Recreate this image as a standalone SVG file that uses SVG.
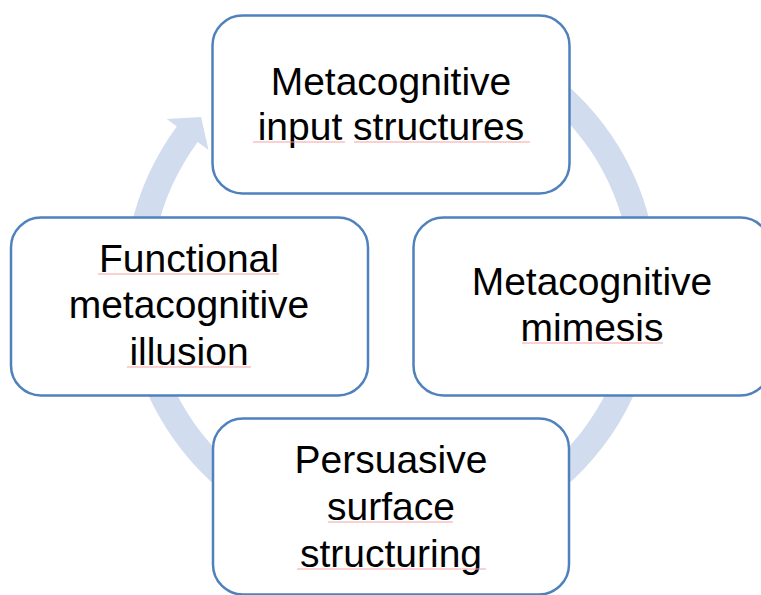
<svg xmlns="http://www.w3.org/2000/svg" width="761" height="595" viewBox="0 0 761 595">
  <style>
    .box { fill: #FFFFFF; stroke: #4F81BD; stroke-width: 2.5; }
    .lbl { font-family: "Liberation Sans", Arial, sans-serif; font-size: 39px; fill: #000000; text-anchor: middle; }
    .sp { stroke: #F3A3A3; stroke-width: 1.2; fill: none; }
  </style>
  <rect x="0" y="0" width="761" height="595" fill="#FFFFFF"/>
  <g id="connectors">
    <path id="cycle-arrow" fill="#D1DCEF" d="M 482.1 34.6 A 266.5 266.5 0 1 1 176.8 126.5 L 166.7 119.1 L 201.1 117.0 L 208.5 150.0 L 197.7 142.0 A 240.5 240.5 0 1 0 473.3 59.0 Z"/>
  </g>
  <g id="node-input-structures">
    <rect class="box" x="212.5" y="15.5" width="357" height="178" rx="30" ry="30"/>
    <text class="lbl" x="391" y="95">Metacognitive</text>
    <text class="lbl" x="391" y="140">input structures</text>
    <line class="sp" x1="253" y1="142" x2="345" y2="142"/>
    <line class="sp" x1="354" y1="142" x2="530" y2="142"/>
  </g>
  <g id="node-mimesis">
    <rect class="box" x="413.5" y="217.5" width="357" height="178" rx="30" ry="30"/>
    <text class="lbl" x="592" y="295">Metacognitive</text>
    <text class="lbl" x="592" y="341">mimesis</text>
    <line class="sp" x1="522" y1="343" x2="663" y2="343"/>
  </g>
  <g id="node-persuasive">
    <rect class="box" x="213" y="418.5" width="356" height="176" rx="30" ry="30"/>
    <text class="lbl" x="391" y="473">Persuasive</text>
    <text class="lbl" x="391" y="520">surface</text>
    <text class="lbl" x="391" y="567">structuring</text>
    <line class="sp" x1="328" y1="522" x2="453" y2="522"/>
    <line class="sp" x1="297" y1="569" x2="486" y2="569"/>
  </g>
  <g id="node-illusion">
    <rect class="box" x="11" y="217.5" width="357" height="178" rx="30" ry="30"/>
    <text class="lbl" x="189" y="272">Functional</text>
    <text class="lbl" x="189" y="318">metacognitive</text>
    <text class="lbl" x="189" y="365">illusion</text>
    <line class="sp" x1="98" y1="274" x2="279" y2="274"/>
    <line class="sp" x1="127" y1="367" x2="251" y2="367"/>
  </g>
</svg>
